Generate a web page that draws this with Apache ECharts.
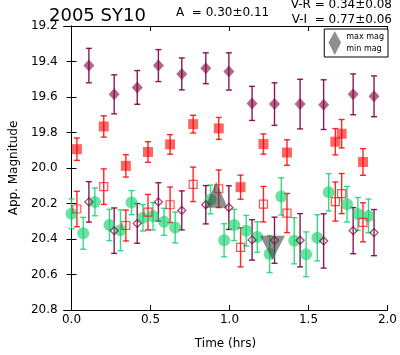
<!DOCTYPE html>
<html>
<head>
<meta charset="utf-8">
<script src="https://cdn.jsdelivr.net/npm/echarts@6/dist/echarts.min.js"></script>
<style>
html,body{margin:0;padding:0;background:#fff;}
#chart{width:400px;height:355px;}
</style>
</head>
<body>
<div id="chart"></div>
<script>
// ---- data ----
const xTicks = [0, 0.5, 1.0, 1.5, 2.0];
const yTicks = [19.2, 19.4, 19.6, 19.8, 20.0, 20.2, 20.4, 20.6, 20.8];

// purple filled diamonds
const purpleT = [0.11, 0.27, 0.416, 0.55, 0.698, 0.85, 0.996, 1.143, 1.285, 1.447, 1.596, 1.783, 1.915];
const purpleM = [19.423, 19.585, 19.546, 19.423, 19.47, 19.438, 19.456, 19.636, 19.64, 19.64, 19.643, 19.585, 19.596];
const purpleE = [0.097, 0.11, 0.095, 0.09, 0.09, 0.087, 0.105, 0.096, 0.12, 0.14, 0.14, 0.115, 0.115];

// red filled squares
const redT = [0.034, 0.204, 0.344, 0.484, 0.624, 0.77, 0.932, 1.07, 1.215, 1.364, 1.67, 1.71, 1.845];
const redM = [19.894, 19.766, 19.988, 19.91, 19.867, 19.753, 19.777, 20.108, 19.865, 19.913, 19.852, 19.807, 19.966];
const redE = [0.063, 0.06, 0.063, 0.058, 0.055, 0.05, 0.062, 0.068, 0.057, 0.072, 0.074, 0.08, 0.075];

// green filled circles
const greenT = [0.0, 0.074, 0.148, 0.24, 0.31, 0.38, 0.452, 0.516, 0.586, 0.656, 0.88, 0.966, 1.03, 1.106, 1.176, 1.254, 1.328, 1.41, 1.485, 1.556, 1.628, 1.744, 1.813, 1.88];
const greenM = [20.258, 20.368, 20.191, 20.321, 20.351, 20.195, 20.281, 20.272, 20.303, 20.335, 20.177, 20.407, 20.321, 20.353, 20.389, 20.485, 20.16, 20.41, 20.486, 20.393, 20.137, 20.204, 20.259, 20.27];
const greenE = [0.084, 0.09, 0.078, 0.088, 0.115, 0.068, 0.074, 0.077, 0.076, 0.087, 0.081, 0.093, 0.088, 0.086, 0.086, 0.104, 0.105, 0.13, 0.126, 0.13, 0.105, 0.1, 0.093, 0.095];

// red open squares
const redOpenT = [0.034, 0.204, 0.344, 0.484, 0.624, 0.77, 0.932, 1.07, 1.215, 1.364, 1.67, 1.71, 1.845];
const redOpenM = [20.231, 20.105, 20.324, 20.249, 20.207, 20.092, 20.117, 20.447, 20.204, 20.254, 20.189, 20.144, 20.306];
const redOpenE = [0.1, 0.1, 0.087, 0.1, 0.1, 0.097, 0.106, 0.11, 0.1, 0.11, 0.11, 0.113, 0.11];

// purple open diamonds
const purpleOpenT = [0.11, 0.27, 0.416, 0.55, 0.698, 0.85, 0.996, 1.143, 1.285, 1.447, 1.596, 1.783, 1.915];
const purpleOpenM = [20.191, 20.353, 20.312, 20.191, 20.239, 20.207, 20.223, 20.405, 20.407, 20.407, 20.411, 20.353, 20.364];
const purpleOpenE = [0.114, 0.128, 0.112, 0.108, 0.11, 0.108, 0.123, 0.114, 0.13, 0.15, 0.153, 0.13, 0.13];

// max / min markers
const maxMag = [0.916, 20.151];
const minMag = [1.272, 20.449];

// ---- chart ----
const FONT = 'DejaVu Sans';
const PURPLE = 'rgba(128,0,64,0.9)';
const PURPLE_FILL = 'rgba(128,0,64,0.75)';
const RED = 'rgba(255,0,0,0.85)';
const RED_FILL = 'rgba(255,0,0,0.75)';
const GREEN = 'rgba(20,210,110,0.85)';
const GREEN_FILL = 'rgba(20,210,110,0.8)';
const GRAY = 'rgba(60,60,60,0.72)';

function pts(t, m) { return t.map((x, i) => [x, m[i]]); }
function bars(t, m, e) { return t.map((x, i) => [x, m[i] - e[i], m[i] + e[i]]); }

function errSeries(t, m, e, color) {
  return {
    type: 'custom',
    silent: true,
    encode: { x: 0, y: [1, 2] },
    data: bars(t, m, e),
    renderItem: function (params, api) {
      const x = api.value(0);
      const a = api.coord([x, api.value(1)]);
      const b = api.coord([x, api.value(2)]);
      const w = 3;
      const st = { stroke: color, lineWidth: 1.4 };
      return {
        type: 'group',
        children: [
          { type: 'line', shape: { x1: a[0], y1: a[1], x2: b[0], y2: b[1] }, style: st },
          { type: 'line', shape: { x1: a[0] - w, y1: a[1], x2: a[0] + w, y2: a[1] }, style: st },
          { type: 'line', shape: { x1: b[0] - w, y1: b[1], x2: b[0] + w, y2: b[1] }, style: st }
        ]
      };
    }
  };
}

function scatter(name, t, m, symbol, size, itemStyle) {
  return {
    name: name,
    type: 'scatter',
    data: pts(t, m),
    symbol: symbol,
    symbolSize: size,
    itemStyle: itemStyle,
    emphasis: { disabled: true }
  };
}

const axisLine = { show: true, lineStyle: { color: '#000', width: 1 } };
const tickStyle = { show: true, inside: true, length: 5, lineStyle: { color: '#000', width: 1 } };
const labelStyle = { color: '#000', fontSize: 12, fontFamily: FONT };

const option = {
  animation: false,
  backgroundColor: '#fff',
  grid: { left: 49, right: 8, top: 26, bottom: 33, containLabel: false },
  xAxis: [
    {
      type: 'value', position: 'bottom', min: -0.05, max: 2.0,
      axisLine: axisLine,
      axisTick: Object.assign({ customValues: xTicks }, tickStyle),
      axisLabel: Object.assign({ customValues: xTicks, margin: 4, formatter: v => v.toFixed(1) }, labelStyle),
      splitLine: { show: false },
      name: 'Time (hrs)', nameLocation: 'middle', nameGap: 28,
      nameTextStyle: { color: '#000', fontSize: 12, fontFamily: FONT }
    },
    {
      type: 'value', position: 'top', min: -0.05, max: 2.0,
      axisLine: axisLine,
      axisTick: Object.assign({ customValues: xTicks }, tickStyle),
      axisLabel: { show: false },
      splitLine: { show: false }
    }
  ],
  yAxis: [
    {
      type: 'value', position: 'left', inverse: true, min: 19.2, max: 20.8,
      axisLine: axisLine,
      axisTick: Object.assign({ customValues: yTicks }, tickStyle),
      axisLabel: Object.assign({ customValues: yTicks, margin: 6, formatter: v => v.toFixed(1) }, labelStyle),
      splitLine: { show: false },
      name: 'App. Magnitude', nameLocation: 'middle', nameGap: 42,
      nameTextStyle: { color: '#000', fontSize: 12, fontFamily: FONT }
    },
    {
      type: 'value', position: 'right', inverse: true, min: 19.2, max: 20.8,
      axisLine: axisLine,
      axisTick: Object.assign({ customValues: yTicks }, tickStyle),
      axisLabel: { show: false },
      splitLine: { show: false }
    }
  ],
  legend: {
    orient: 'vertical',
    right: 12, top: 29,
    data: ['max mag', 'min mag'],
    itemWidth: 13, itemHeight: 12, itemGap: 0,
    padding: [2, 4, 2, 4],
    borderColor: '#000', borderWidth: 1, borderRadius: 0,
    backgroundColor: '#fff',
    textStyle: { fontSize: 8, fontFamily: FONT, color: '#000' },
    selectedMode: false
  },
  graphic: [
    { type: 'text', style: { x: 49, y: 16.5, text: '2005 SY10', font: '18px "DejaVu Sans"', fill: '#000', verticalAlign: 'middle', align: 'left' } },
    { type: 'text', style: { x: 176, y: 13, text: 'A  = 0.30±0.11', font: '12px "DejaVu Sans"', fill: '#000', verticalAlign: 'middle', align: 'left' } },
    { type: 'text', style: { x: 392, y: 4.5, text: 'V-R = 0.34±0.08', font: '12px "DejaVu Sans"', fill: '#000', verticalAlign: 'middle', align: 'right' } },
    { type: 'text', style: { x: 392, y: 19.5, text: 'V-I  = 0.77±0.06', font: '12px "DejaVu Sans"', fill: '#000', verticalAlign: 'middle', align: 'right' } }
  ],
  series: [
    errSeries(purpleT, purpleM, purpleE, PURPLE),
    scatter('purple', purpleT, purpleM, 'diamond', [11, 12], { color: PURPLE_FILL }),
    errSeries(redT, redM, redE, RED),
    scatter('red', redT, redM, 'rect', 10, { color: RED_FILL }),
    errSeries(greenT, greenM, greenE, GREEN),
    scatter('green', greenT, greenM, 'circle', 12, { color: GREEN_FILL }),
    errSeries(redOpenT, redOpenM, redOpenE, RED),
    scatter('redOpen', redOpenT, redOpenM, 'rect', 8, { color: 'rgba(255,255,255,0)', borderColor: RED, borderWidth: 1.2 }),
    errSeries(purpleOpenT, purpleOpenM, purpleOpenE, PURPLE),
    scatter('purpleOpen', purpleOpenT, purpleOpenM, 'diamond', 8, { color: 'rgba(255,255,255,0)', borderColor: PURPLE, borderWidth: 1.3 }),
    { name: 'max mag', type: 'scatter', data: [maxMag], symbol: 'triangle', symbolSize: [23, 26], itemStyle: { color: GRAY }, z: 5, emphasis: { disabled: true } },
    { name: 'min mag', type: 'scatter', data: [minMag], symbol: 'path://M0,0L10,0L5,10Z', symbolKeepAspect: false, symbolSize: [25, 24], itemStyle: { color: GRAY }, z: 5, emphasis: { disabled: true } }
  ]
};

const chart = echarts.init(document.getElementById('chart'), null, { renderer: 'canvas' });
chart.setOption(option);
</script>
</body>
</html>
